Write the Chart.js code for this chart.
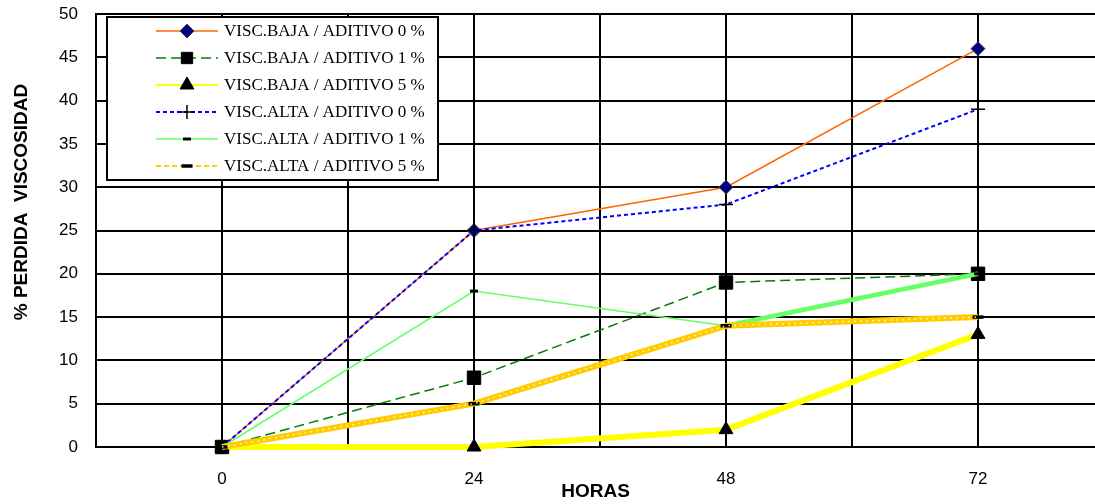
<!DOCTYPE html>
<html>
<head>
<meta charset="utf-8">
<script src="https://cdn.jsdelivr.net/npm/chart.js@4.4.1/dist/chart.umd.min.js"></script>
<style>
  html, body { margin: 0; padding: 0; background: #fff; overflow: hidden; }
  #chart { display: block; }
</style>
</head>
<body>
<canvas id="chart" width="1095" height="504"></canvas>
<script>
// horas de ensayo
const hours = [0, 24, 48, 72];
const gridHours = [-12, 0, 12, 24, 36, 48, 60, 72];

const seriesLabels = [
  'VISC.BAJA / ADITIVO 0 %',
  'VISC.BAJA / ADITIVO 1 %',
  'VISC.BAJA / ADITIVO 5 %',
  'VISC.ALTA / ADITIVO 0 %',
  'VISC.ALTA / ADITIVO 1 %',
  'VISC.ALTA / ADITIVO 5 %'
];

const bajaAd0 = [0, 25, 30, 46];
const bajaAd1 = [0, 8, 19, 20];
const bajaAd5 = [0, 0, 2, 13];
const altaAd0 = [0, 25, 28, 39];
const altaAd1 = [0, 18, 14, 20];
const altaAd5 = [0, 5, 14, 15];

const yTicks = [0, 5, 10, 15, 20, 25, 30, 35, 40, 45, 50];

const xTitle = 'HORAS';
const yTitle = '% PERDIDA  VISCOSIDAD';

const FONT = '"Liberation Sans", Arial, sans-serif';

function pts(vals) {
  return hours.map((h, i) => ({ x: h, y: vals[i] }));
}

const datasets = [
  {
    label: seriesLabels[0], data: pts(bajaAd0),
    borderColor: '#FF6600', borderWidth: 1.5,
    pointStyle: 'rectRot', pointRadius: 7,
    pointBackgroundColor: '#000080', pointBorderColor: '#444', pointBorderWidth: 1
  },
  {
    label: seriesLabels[1], data: pts(bajaAd1),
    borderColor: '#008000', borderWidth: 1.5, borderDash: [10, 5],
    pointStyle: 'rect', pointRadius: 9.5,
    pointBackgroundColor: '#000', pointBorderColor: '#000', pointBorderWidth: 1
  },
  {
    label: seriesLabels[2], data: pts(bajaAd5),
    borderColor: '#FFFF00', borderWidth: 6,
    pointStyle: 'triangle', pointRadius: 8,
    pointBackgroundColor: '#000', pointBorderColor: '#000', pointBorderWidth: 1
  },
  {
    label: seriesLabels[3], data: pts(altaAd0),
    borderColor: '#0000FF', borderWidth: 2, borderDash: [4, 3],
    pointStyle: 'cross', pointRadius: 7,
    pointBackgroundColor: '#000', pointBorderColor: '#000', pointBorderWidth: 1.5
  },
  {
    label: seriesLabels[4], data: pts(altaAd1),
    borderColor: '#66FF66', borderWidth: 1.5,
    segment: { borderWidth: c => c.p0DataIndex === 2 ? 4.5 : 1.5 },
    pointStyle: 'line', pointRadius: 4,
    pointBackgroundColor: '#000', pointBorderColor: '#000', pointBorderWidth: 3
  },
  {
    label: seriesLabels[5], data: pts(altaAd5),
    borderColor: '#FFCC00', borderWidth: 6, dotted: true,
    pointStyle: 'line', pointRadius: 5.5,
    pointBackgroundColor: '#000', pointBorderColor: '#000', pointBorderWidth: 3.5
  }
];
// excel pinta la ultima serie arriba
datasets.forEach((d, i) => {
  d.order = datasets.length - i;
  d.fill = false;
  d.tension = 0;
  d.clip = false;
});

// puntitos blancos sobre la linea gruesa
const dotPlugin = {
  id: 'dots',
  afterDatasetDraw(chart, args) {
    const ds = chart.data.datasets[args.index];
    if (!ds.dotted) return;
    const p = args.meta.data;
    const ctx = chart.ctx;
    ctx.save();
    ctx.strokeStyle = 'rgba(255,255,255,0.9)';
    ctx.lineWidth = 1.5;
    ctx.setLineDash([1.5, 4.5]);
    ctx.beginPath();
    ctx.moveTo(p[0].x, p[0].y);
    for (let i = 1; i < p.length; i++) ctx.lineTo(p[i].x, p[i].y);
    ctx.stroke();
    ctx.restore();
  }
};

// leyenda tipo excel dentro del grafico + titulo del eje y
const boxLegend = {
  id: 'boxLegend',
  afterDraw(chart) {
    const ctx = chart.ctx;
    ctx.save();
    ctx.fillStyle = '#fff';
    ctx.fillRect(107, 17, 331, 163);
    ctx.strokeStyle = '#000';
    ctx.lineWidth = 2;
    ctx.strokeRect(107, 17, 331, 163);
    chart.data.datasets.forEach((ds, i) => {
      const y = 31 + i * 27;
      ctx.strokeStyle = ds.borderColor;
      ctx.lineWidth = Math.min(ds.borderWidth, 2);
      ctx.setLineDash(ds.borderDash || (ds.dotted ? [5, 3] : []));
      ctx.beginPath();
      ctx.moveTo(156, y);
      ctx.lineTo(218, y);
      ctx.stroke();
      ctx.setLineDash([]);
      ctx.fillStyle = ds.pointBackgroundColor;
      ctx.strokeStyle = ds.pointBorderColor;
      ctx.lineWidth = ds.pointBorderWidth;
      Chart.helpers.drawPoint(ctx, {
        pointStyle: ds.pointStyle,
        radius: ds.pointStyle === 'rect' ? 8 : ds.pointRadius,
        rotation: 0,
        borderWidth: ds.pointBorderWidth
      }, 187, y);
      ctx.fillStyle = '#000';
      ctx.font = '17px "Liberation Serif", "Times New Roman", serif';
      ctx.textBaseline = 'middle';
      ctx.textAlign = 'left';
      ctx.fillText(ds.label, 224, y + 1);
    });
    ctx.restore();

    ctx.save();
    ctx.translate(22, 202);
    ctx.rotate(-Math.PI / 2);
    ctx.font = 'bold 19px ' + FONT;
    ctx.fillStyle = '#000';
    ctx.textAlign = 'center';
    ctx.textBaseline = 'middle';
    ctx.fillText(yTitle, 0, 0);
    ctx.restore();
  }
};

new Chart(document.getElementById('chart'), {
  type: 'line',
  data: { datasets },
  plugins: [dotPlugin, boxLegend],
  options: {
    responsive: false,
    animation: false,
    devicePixelRatio: 1,
    layout: { autoPadding: false, padding: { top: 14, left: 0, right: 0, bottom: 0 } },
    plugins: { legend: { display: false }, tooltip: { enabled: false } },
    scales: {
      x: {
        type: 'linear',
        min: -12,
        max: 83.14,
        z: 1,
        afterBuildTicks: s => { s.ticks = gridHours.map(v => ({ value: v })); },
        afterFit: s => { s.height = 57; },
        grid: { color: '#000', lineWidth: 2, drawTicks: false },
        border: { color: '#000', width: 2 },
        ticks: {
          padding: 22,
          color: '#000',
          font: { family: FONT, size: 17 },
          callback: v => hours.includes(v) ? String(v) : ''
        },
        title: {
          display: true, text: xTitle, color: '#000',
          font: { family: FONT, size: 19, weight: 'bold' },
          padding: { top: 0, bottom: 1 }
        }
      },
      y: {
        min: 0,
        max: 50,
        z: 1,
        afterBuildTicks: s => { s.ticks = yTicks.map(v => ({ value: v })); },
        afterFit: s => { s.width = 96; },
        // marcas invisibles: solo separan las etiquetas del eje
        grid: { color: '#000', lineWidth: 2, drawTicks: true, tickLength: 18, tickColor: 'rgba(0,0,0,0)' },
        border: { color: '#000', width: 2 },
        ticks: {
          padding: 0,
          color: '#000',
          font: { family: FONT, size: 17 }
        }
      }
    }
  }
});
</script>
</body>
</html>
